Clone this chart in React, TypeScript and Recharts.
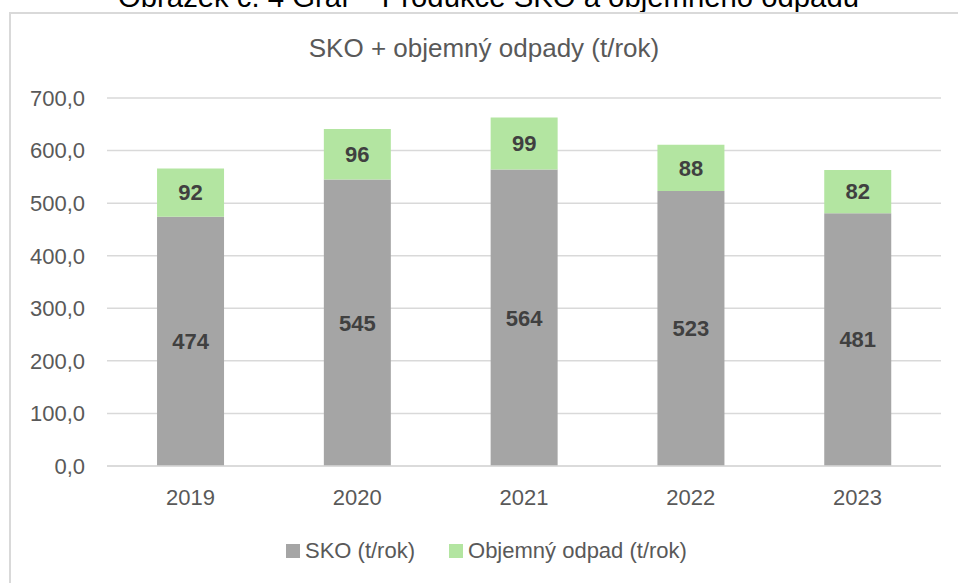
import React from 'react';
import { BarChart, Bar, XAxis, YAxis, CartesianGrid, Legend, LabelList } from 'recharts';

const categories = ['2019', '2020', '2021', '2022', '2023'];
const skoValues = [474, 545, 564, 523, 481];
const objemnyValues = [92, 96, 99, 88, 82];
const yTicks = [0, 100, 200, 300, 400, 500, 600, 700];
const seriesNames = ['SKO (t/rok)', 'Objemný odpad (t/rok)'];
const seriesColors = ['#A5A5A5', '#B3E5A1'];
const chartTitle = 'SKO + objemný odpady (t/rok)';
const captionText = 'Obrázek č. 4 Graf – Produkce SKO a objemného odpadu';

const data = categories.map((c, i) => ({ year: c, sko: skoValues[i], obj: objemnyValues[i] }));

const FONT = '"Liberation Sans", Arial, sans-serif';

const renderLegend = (props: any) => {
  const payload = (props.payload || []).slice().sort(
    (a: any, b: any) => seriesNames.indexOf(a.value) - seriesNames.indexOf(b.value)
  );
  return (
    <div style={{ height: 57, boxSizing: 'border-box', paddingBottom: 8, paddingLeft: 286, display: 'flex', alignItems: 'center', fontFamily: FONT, fontSize: 22, color: '#595959', lineHeight: '24px' }}>
      {payload.map((p: any, i: number) => (
        <div key={i} style={{ display: 'flex', alignItems: 'center', marginRight: 34 }}>
          <span style={{ display: 'inline-block', width: 14, height: 14, background: p.color, marginRight: 5 }} />
          <span>{p.value}</span>
        </div>
      ))}
    </div>
  );
};

export default function App() {
  return (
    <div style={{ position: 'absolute', left: 0, top: 0, width: 958, height: 583, overflow: 'hidden', background: '#fff' }}>
      <svg width={958} height={30} style={{ position: 'absolute', left: 0, top: 0, zIndex: 0 }}>
        <text x={118} y={7} fontFamily={FONT} fontSize={29.3} fill="#000">{captionText}</text>
      </svg>
      <div style={{ position: 'absolute', left: 9, top: 12, width: 1000, height: 1000, border: '2px solid #d9d9d9', background: '#fff', zIndex: 1 }} />
      <div style={{ position: 'absolute', left: 0, top: 0, zIndex: 2 }}>
        <svg width={958} height={80} style={{ position: 'absolute', left: 0, top: 0 }}>
          <text x={484} y={57} textAnchor="middle" fontFamily={FONT} fontSize={26} fill="#595959">{chartTitle}</text>
        </svg>
        <BarChart width={958} height={583} data={data} margin={{ top: 98, right: 17, left: 10, bottom: 0 }} barCategoryGap="30%">
          <CartesianGrid vertical={false} stroke="#d9d9d9" strokeWidth={1.5} />
          <XAxis dataKey="year" height={60} tickSize={0} tickMargin={23} axisLine={{ stroke: '#d9d9d9', strokeWidth: 1.5 }} tickLine={false}
            tick={{ fill: '#595959', fontSize: 22, fontFamily: FONT }} />
          <YAxis width={97} domain={[0, 700]} ticks={yTicks} tickSize={0} tickMargin={22} axisLine={false} tickLine={false}
            tick={{ fill: '#595959', fontSize: 22, fontFamily: FONT }}
            tickFormatter={(v: number) => v.toFixed(1).replace('.', ',')} />
          <Legend align="left" verticalAlign="bottom" content={renderLegend} wrapperStyle={{ left: 0, width: 958 }} />
          <Bar dataKey="sko" name={seriesNames[0]} stackId="a" fill={seriesColors[0]} isAnimationActive={false}>
            <LabelList dataKey="sko" position="center" fill="#404040" fontWeight="bold" fontSize={22} fontFamily={FONT} />
          </Bar>
          <Bar dataKey="obj" name={seriesNames[1]} stackId="a" fill={seriesColors[1]} isAnimationActive={false}>
            <LabelList dataKey="obj" position="center" fill="#404040" fontWeight="bold" fontSize={22} fontFamily={FONT} />
          </Bar>
        </BarChart>
      </div>
    </div>
  );
}
